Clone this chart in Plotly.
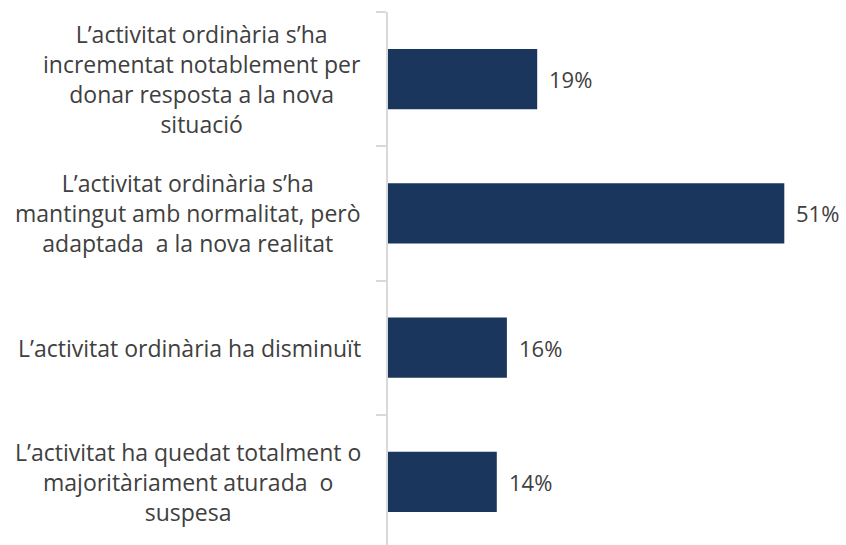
import plotly.graph_objects as go

categories = [
    "L’activitat ordinària s’ha<br>incrementat notablement per<br>donar resposta a la nova<br>situació",
    "L’activitat ordinària s’ha<br>mantingut amb normalitat, però<br>adaptada  a la nova realitat",
    "L’activitat ordinària ha disminuït",
    "L’activitat ha quedat totalment o<br>majoritàriament aturada  o<br>suspesa",
]
values = [19.2, 51.0, 15.3, 14.0]
value_labels = ["19%", "51%", "16%", "14%"]

BAR_COLOR = "#1b365d"
TEXT_COLOR = "#404040"
FONT = "Open Sans"
LABEL_SIZE = 23
VALUE_SIZE = 22

fig = go.Figure()
fig.add_trace(go.Bar(
    x=values, y=list(range(len(categories))), orientation="h",
    marker=dict(color=BAR_COLOR, line=dict(width=0)),
    width=0.45, hoverinfo="skip",
))

annotations = []
for i, (cat, lab, v) in enumerate(zip(categories, value_labels, values)):
    annotations.append(dict(
        x=v, y=i, xref="x", yref="y", text=lab, showarrow=False,
        xanchor="left", yanchor="middle", xshift=10,
        font=dict(family=FONT, size=VALUE_SIZE, color=TEXT_COLOR),
    ))
    annotations.append(dict(
        x=0, y=i, xref="paper", yref="y", text=cat,
        showarrow=False, xanchor="right", yanchor="middle", align="center",
        xshift=-25,
        font=dict(family=FONT, size=LABEL_SIZE, color=TEXT_COLOR),
    ))

fig.update_layout(
    width=846, height=545,
    margin=dict(l=388, r=0, t=12, b=0),
    paper_bgcolor="white", plot_bgcolor="white",
    showlegend=False,
    annotations=annotations,
    xaxis=dict(range=[0, 58.94], visible=False, fixedrange=True),
    yaxis=dict(
        type="linear", range=[3.47, -0.5],
        tickmode="array", tickvals=[-0.5, 0.5, 1.5, 2.5, 3.5],
        showticklabels=False, ticks="outside", ticklen=10,
        tickcolor="#d9d9d9", tickwidth=1.5,
        showline=True, linecolor="#d9d9d9", linewidth=1.5,
        showgrid=False, zeroline=False, fixedrange=True,
    ),
)

fig.write_html(
    "out.html",
    config={"displayModeBar": False},
    post_script="document.body.style.margin='0';document.body.style.overflow='hidden';",
)
